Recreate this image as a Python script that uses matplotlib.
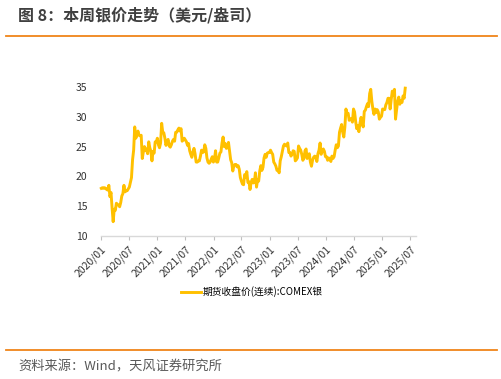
import matplotlib
matplotlib.use('Agg')
import matplotlib.pyplot as plt
import pandas as pd
from matplotlib.lines import Line2D

plt.rcParams['font.family'] = ['Noto Sans CJK SC', 'DejaVu Sans']

# 周度收盘价 (美元/盎司), 2020-01-03 起每周五
silver_2020 = [18.0, 18.1, 18.0, 18.1, 18.0, 17.8, 17.7, 18.5, 16.6,
               17.3, 14.7, 12.4, 14.5, 14.3, 15.5, 15.3, 15.2, 14.9,
               15.6, 16.7, 17.1, 18.5, 17.4, 17.6, 17.6, 17.9, 18.2,
               19.0, 19.8, 22.8, 24.4, 28.3, 26.4, 26.9, 27.6, 26.9,
               26.8, 26.9, 23.0, 24.1, 25.0, 24.3, 24.6, 23.8, 25.8,
               24.8, 24.2, 22.6, 24.2, 23.9, 25.8, 25.8]
silver_2021 = [26.4, 25.3, 24.8, 25.6, 28.9, 27.4, 27.3, 26.4, 25.2,
               25.9, 26.2, 25.1, 24.9, 25.3, 25.9, 26.2, 25.9, 27.4,
               27.4, 27.8, 28.1, 27.6, 28.0, 25.9, 26.1, 26.4, 26.1,
               25.8, 25.2, 25.5, 24.3, 23.7, 23.2, 24.1, 24.7, 23.8,
               22.4, 22.4, 22.6, 22.6, 23.4, 24.4, 24.0, 24.1, 25.3,
               24.7, 23.1, 22.4, 22.2, 22.4, 22.9, 23.3]
silver_2022 = [22.4, 22.9, 24.3, 22.4, 22.4, 23.1, 23.9, 24.1, 25.6,
               26.6, 25.0, 25.5, 24.7, 24.8, 25.7, 24.2, 22.8, 22.3,
               20.9, 21.8, 22.0, 22.0, 21.6, 21.8, 21.2, 19.8, 19.2,
               18.7, 18.6, 20.3, 19.9, 20.8, 19.0, 19.1, 17.8, 19.0,
               19.5, 18.9, 19.0, 20.6, 18.2, 19.4, 19.2, 20.9, 21.8,
               21.0, 21.5, 23.1, 23.7, 23.2, 23.9, 24.0]
silver_2023 = [24.0, 24.4, 24.0, 23.7, 22.4, 22.1, 21.7, 21.0, 21.1,
               20.6, 22.6, 23.3, 24.2, 25.1, 25.4, 25.2, 25.1, 25.6,
               24.0, 24.0, 23.4, 23.7, 24.3, 24.2, 22.6, 22.8, 23.1,
               25.1, 24.7, 24.4, 23.7, 22.7, 23.0, 24.3, 24.6, 23.0,
               23.2, 23.8, 22.4, 21.7, 22.7, 23.2, 23.4, 23.3, 22.5,
               23.8, 24.4, 25.6, 23.7, 24.4, 24.6, 24.2]
silver_2024 = [23.3, 23.3, 22.7, 23.1, 22.9, 22.5, 23.4, 23.0, 23.3,
               24.4, 25.3, 24.8, 25.1, 27.4, 28.1, 28.7, 27.4, 26.6,
               28.3, 31.3, 30.4, 30.6, 29.4, 29.6, 29.7, 29.1, 31.3,
               30.8, 29.2, 28.0, 28.5, 27.5, 28.9, 29.9, 28.9, 28.3,
               30.9, 31.1, 31.7, 32.2, 31.7, 33.9, 34.6, 32.6, 31.3,
               30.4, 31.3, 30.7, 31.2, 30.8, 29.6, 29.9]
silver_2025 = [30.1, 31.3, 31.2, 31.2, 32.0, 32.4, 33.1, 33.1, 31.3,
               32.9, 34.3, 33.6, 34.6, 29.6, 31.2, 32.6, 33.3, 32.1,
               32.7, 32.4, 33.5, 33.1, 34.8]

prices = silver_2020 + silver_2021 + silver_2022 + silver_2023 + silver_2024 + silver_2025
dates = pd.date_range('2020-01-03', periods=len(prices), freq='W-FRI')

tick_dates = pd.date_range('2020-01-01', '2025-07-01', freq='6MS')
tick_labels = [d.strftime('%Y/%m') for d in tick_dates]
y_ticks = [10, 15, 20, 25, 30, 35]

fig = plt.figure(figsize=(5.02, 3.79), dpi=100)
ax = fig.add_axes([0.2012, 0.3773, 0.6275, 0.409])

ax.plot(dates, prices, color='#FFC000', linewidth=2.1,
        label='期货收盘价(连续):COMEX银', clip_on=False)

ax.set_xlim(pd.Timestamp('2020-01-01'), pd.Timestamp('2025-08-08'))
ax.set_ylim(10, 36)
ax.set_yticks(y_ticks)
ax.set_xticks(tick_dates)
ax.set_xticklabels(tick_labels, rotation=45, ha='right', va='top',
                   rotation_mode='anchor', fontsize=7.5, color='#333333')
ax.tick_params(axis='y', length=0, labelsize=7.5, labelcolor='#333333', pad=10)
ax.tick_params(axis='x', length=3, color='#bfbfbf', pad=3)

for s in ['top', 'right', 'left']:
    ax.spines[s].set_visible(False)
ax.spines['bottom'].set_color('#d9d9d9')
ax.spines['bottom'].set_linewidth(1)

fig.legend(loc='center', bbox_to_anchor=(0.502, 0.2296), frameon=False,
           fontsize=7, handlelength=2.1, handletextpad=0.2)

# 标题和分隔线
fig.text(0.036, 0.96, '图 8：本周银价走势（美元/盎司）', fontsize=11.5,
         fontweight='bold', color='#404040', ha='left', va='center')
fig.add_artist(Line2D([0.012, 0.99], [1 - 36 / 379] * 2, color='#F08519', linewidth=1.3))
fig.add_artist(Line2D([0.012, 0.99], [1 - 350 / 379] * 2, color='#F08519', linewidth=1.3))
fig.text(0.036, 1 - 367 / 379, '资料来源：Wind，天风证券研究所', fontsize=9.5,
         color='#595959', ha='left', va='center')

fig.savefig('out.png', dpi=100)
